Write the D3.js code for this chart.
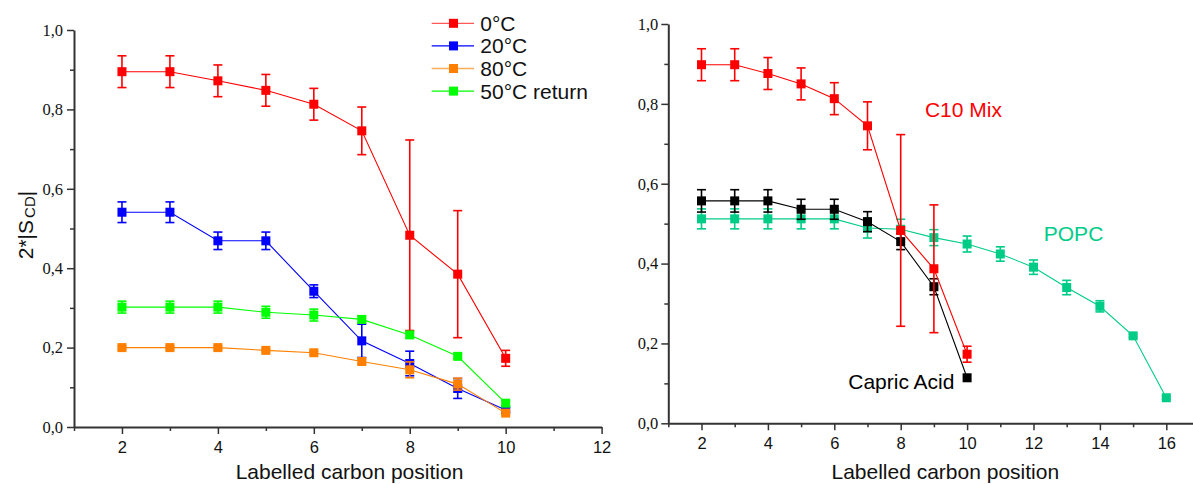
<!DOCTYPE html>
<html>
<head>
<meta charset="utf-8">
<script src="https://cdn.jsdelivr.net/npm/d3@7"></script>
<style>
  html, body { margin: 0; padding: 0; background: #fff; }
  svg { display: block; }
</style>
</head>
<body>
<svg id="chart" width="1193" height="484"></svg>
<script>
// ---------- DATA ----------
const carbonPositions = [2, 3, 4, 5, 6, 7, 8, 9, 10];
const popcPositions = [2, 3, 4, 5, 6, 7, 8, 9, 10, 11, 12, 13, 14, 15, 16];

// Left panel: temperature series
const t0C      = [0.895, 0.895, 0.872, 0.848, 0.813, 0.746, 0.483, 0.385, 0.173];
const t0CErr   = [0.040, 0.040, 0.040, 0.040, 0.040, 0.060, 0.240, 0.160, 0.020];
const t20C     = [0.541, 0.541, 0.469, 0.469, 0.342, 0.217, 0.160, 0.097, 0.043];
const t20CErr  = [0.026, 0.026, 0.022, 0.022, 0.016, 0.042, 0.031, 0.025, 0.006];
const t80C     = [0.200, 0.200, 0.200, 0.193, 0.187, 0.165, 0.144, 0.108, 0.035];
const t80CErr  = [0.004, 0.004, 0.004, 0.004, 0.004, 0.006, 0.020, 0.015, 0.004];
const t50Ret   = [0.302, 0.302, 0.302, 0.289, 0.282, 0.271, 0.232, 0.178, 0.060];
const t50RetErr= [0.015, 0.015, 0.015, 0.015, 0.015, 0.008, 0.008, 0.006, 0.006];

// Right panel
const c10Mix     = [0.898, 0.898, 0.876, 0.850, 0.813, 0.745, 0.483, 0.387, 0.173];
const c10MixErr  = [0.040, 0.040, 0.040, 0.040, 0.040, 0.060, 0.240, 0.160, 0.020];
const capric     = [0.557, 0.557, 0.557, 0.536, 0.536, 0.505, 0.455, 0.342, 0.114];
const capricErr  = [0.028, 0.028, 0.028, 0.025, 0.025, 0.025, 0.020, 0.020, 0.000];
const popc       = [0.512, 0.512, 0.512, 0.512, 0.512, 0.489, 0.486, 0.465, 0.449, 0.424, 0.391, 0.340, 0.293, 0.219, 0.064];
const popcErr    = [0.025, 0.025, 0.025, 0.025, 0.025, 0.025, 0.025, 0.020, 0.020, 0.018, 0.018, 0.018, 0.014, 0.004, 0.004];

const legendLabels = ["0°C", "20°C", "80°C", "50°C return"];
const xTickMajorLeft = [2, 4, 6, 8, 10, 12];
const xTickMinorLeft = [1, 3, 5, 7, 9, 11];
const xTickMajorRight = [2, 4, 6, 8, 10, 12, 14, 16];
const xTickMinorRight = [1, 3, 5, 7, 9, 11, 13, 15, 17];
const yTickMajor = [0, 0.2, 0.4, 0.6, 0.8, 1.0];
const yTickMinor = [0.1, 0.3, 0.5, 0.7, 0.9];
const xTitle = "Labelled carbon position";
const annotations = [
  { text: "C10 Mix", x: 8.73, y: 0.766, color: "#ff0000" },
  { text: "POPC", x: 12.31, y: 0.457, color: "#00cc88" },
  { text: "Capric Acid", x: 6.42, y: 0.085, color: "#000000" }
];

// ---------- STYLE / LAYOUT ----------
const SANS = "'Liberation Sans', Arial, sans-serif";
const SERIF = "'Liberation Serif', 'Times New Roman', 'DejaVu Serif', serif";
const AXIS_COLOR = "#333";

const svg = d3.select("#chart");

const xL = d3.scaleLinear().domain([1, 12]).range([74, 601.6]);
const yL = d3.scaleLinear().domain([0, 1]).range([427, 30]);
const xR = d3.scaleLinear().domain([1, 17]).range([668.3, 1199.5]);
const yR = d3.scaleLinear().domain([0, 1]).range([423.3, 24]);

const commaFmt = v => d3.format(".1f")(v).replace(".", ",");

function drawAxes(x, y, majX, minX, xPad, yPad) {
  const g = svg.append("g");
  const yPos = y.range()[0];
  const xPos = x.range()[0];
  // x axis
  const gx = g.append("g").attr("transform", `translate(0,${yPos})`);
  gx.call(d3.axisBottom(x).tickValues(majX).tickSize(7).tickSizeOuter(0).tickPadding(xPad).tickFormat(d3.format("d")));
  gx.append("g").call(d3.axisBottom(x).tickValues(minX).tickSize(4).tickSizeOuter(0).tickFormat(""))
    .select(".domain").remove();
  // y axis
  const gy = g.append("g").attr("transform", `translate(${xPos},0)`);
  gy.call(d3.axisLeft(y).tickValues(yTickMajor).tickSize(7).tickSizeOuter(0).tickPadding(yPad).tickFormat(commaFmt));
  gy.append("g").call(d3.axisLeft(y).tickValues(yTickMinor).tickSize(4).tickSizeOuter(0).tickFormat(""))
    .select(".domain").remove();

  g.selectAll(".domain").attr("stroke", AXIS_COLOR).attr("stroke-width", 2);
  g.selectAll(".tick line").attr("stroke", AXIS_COLOR).attr("stroke-width", 1.5);
  gx.attr("font-family", null).attr("font-size", null);
  gy.attr("font-family", null).attr("font-size", null);
  gx.selectAll(".tick text").style("font-family", SANS).style("font-size", "16.5px").attr("fill", "#111");
  gy.selectAll(".tick text").style("font-family", SERIF).style("font-size", "16.5px").attr("fill", "#111");
}

function drawSeries(x, y, xs, vals, errs, color) {
  const g = svg.append("g");
  const pts = xs.map((d, i) => ({ x: d, y: vals[i], e: errs[i] }));
  g.append("path").datum(pts)
    .attr("fill", "none").attr("stroke", color).attr("stroke-width", 1.1)
    .attr("d", d3.line().x(d => x(d.x)).y(d => y(d.y)));
  const eb = g.selectAll("g.eb").data(pts.filter(d => d.e > 0)).enter().append("g");
  eb.append("line")
    .attr("x1", d => x(d.x)).attr("x2", d => x(d.x))
    .attr("y1", d => y(d.y + d.e)).attr("y2", d => y(d.y - d.e))
    .attr("stroke", color).attr("stroke-width", 1.6);
  [1, -1].forEach(s => {
    eb.append("line")
      .attr("x1", d => x(d.x) - 4.5).attr("x2", d => x(d.x) + 4.5)
      .attr("y1", d => y(d.y + s * d.e)).attr("y2", d => y(d.y + s * d.e))
      .attr("stroke", color).attr("stroke-width", 1.6);
  });
  g.selectAll("rect").data(pts).enter().append("rect")
    .attr("x", d => x(d.x) - 4.5).attr("y", d => y(d.y) - 4.5)
    .attr("width", 9).attr("height", 9).attr("fill", color);
}

// ---------- LEFT PANEL ----------
drawAxes(xL, yL, xTickMajorLeft, xTickMinorLeft, 7.5, 4);
const leftColors = ["#ff0000", "#0000ff", "#ff8000", "#00ff00"];
drawSeries(xL, yL, carbonPositions, t0C, t0CErr, leftColors[0]);
drawSeries(xL, yL, carbonPositions, t20C, t20CErr, leftColors[1]);
drawSeries(xL, yL, carbonPositions, t80C, t80CErr, leftColors[2]);
drawSeries(xL, yL, carbonPositions, t50Ret, t50RetErr, leftColors[3]);

// legend
const lg = svg.append("g");
legendLabels.forEach((lab, i) => {
  const cy = 23.3 + i * 22.6;
  lg.append("line").attr("x1", 431.7).attr("x2", 474).attr("y1", cy).attr("y2", cy)
    .attr("stroke", leftColors[i]).attr("stroke-width", 1.3).attr("opacity", i === 1 || i === 3 ? 1 : 0.65);
  lg.append("rect").attr("x", 449).attr("y", cy - 4.5).attr("width", 9).attr("height", 9).attr("fill", leftColors[i]);
  lg.append("text").attr("x", 480.3).attr("y", cy).attr("dy", "0.36em")
    .attr("font-family", SANS).attr("font-size", 21).attr("fill", "#111").text(lab);
});

// y title
const yt = svg.append("text")
  .attr("transform", "translate(33,225) rotate(-90)")
  .attr("text-anchor", "middle")
  .attr("font-family", SANS).attr("font-size", 21).attr("fill", "#111");
yt.append("tspan").text("2*|S");
yt.append("tspan").attr("font-size", 15).attr("dy", 2).attr("dx", 2).text("CD");
yt.append("tspan").attr("dy", -2).text("|");

svg.append("text").attr("x", 349.5).attr("y", 479).attr("text-anchor", "middle")
  .attr("font-family", SANS).attr("font-size", 21).attr("fill", "#111").text(xTitle);

// ---------- RIGHT PANEL ----------
drawAxes(xR, yR, xTickMajorRight, xTickMinorRight, 6.5, 3);
drawSeries(xR, yR, popcPositions, popc, popcErr, "#00cc88");
drawSeries(xR, yR, carbonPositions, capric, capricErr, "#000000");
drawSeries(xR, yR, carbonPositions, c10Mix, c10MixErr, "#ff0000");

annotations.forEach(a => {
  svg.append("text").attr("x", xR(a.x)).attr("y", yR(a.y))
    .attr("font-family", SANS).attr("font-size", 21).attr("fill", a.color).text(a.text);
});

svg.append("text").attr("x", 945.3).attr("y", 479).attr("text-anchor", "middle")
  .attr("font-family", SANS).attr("font-size", 21).attr("fill", "#111").text(xTitle);
</script>
</body>
</html>
